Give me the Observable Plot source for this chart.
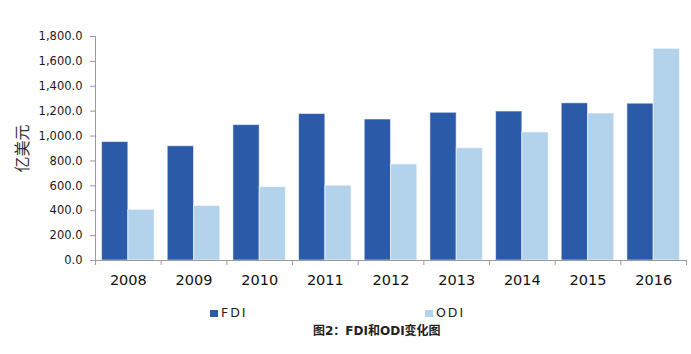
<!DOCTYPE html>
<html><head><meta charset="utf-8">
<script src="https://cdn.jsdelivr.net/npm/d3@7"></script>
<script src="https://cdn.jsdelivr.net/npm/@observablehq/plot@0.6"></script>
<style>
body{margin:0;background:#fff;}
#wrap{position:relative;width:691px;height:354px;overflow:hidden;}
#wrap svg{position:absolute;left:0;top:0;}
.leg{position:absolute;font-family:"DejaVu Sans","Noto Sans CJK SC",sans-serif;font-size:12.5px;letter-spacing:2px;color:#222;line-height:14px;white-space:nowrap;}
.sw{display:inline-block;width:8px;height:7px;margin-right:3px;vertical-align:0px;}
.cap{position:absolute;font-family:"DejaVu Sans","Noto Sans CJK SC",sans-serif;font-weight:bold;font-size:12px;color:#222;line-height:16px;white-space:nowrap;}
</style></head><body><div id="wrap"></div>
<script>
const years = ["2008","2009","2010","2011","2012","2013","2014","2015","2016"];
const series = ["FDI","ODI"];
const fdi = [952, 918, 1088, 1177, 1133, 1187, 1197, 1263, 1260];
const odi = [407, 438, 590, 601, 772, 902, 1029, 1181, 1701];
const yTicks = [0,200,400,600,800,1000,1200,1400,1600,1800];
const colors = ["#2B5BA8","#B3D3EC"];
const yLabel = "亿美元";
const caption = "图2：FDI和ODI变化图";

const data = years.flatMap((y,i)=>[
  {year:y, series:series[0], value:fdi[i]},
  {year:y, series:series[1], value:odi[i]}
]);

const W=691, H=300, ml=95, mr=5, mt=36, mb=40;
const step = (W-ml-mr)/years.length;
const axisGray = "#9a9a9a";

const chart = Plot.plot({
  width:W, height:H, marginLeft:ml, marginRight:mr, marginTop:mt, marginBottom:mb,
  style:{fontFamily:"DejaVu Sans, Noto Sans CJK SC, sans-serif", background:"transparent", color:"#222"},
  fx:{domain:years, padding:0, round:false},
  x:{domain:series, paddingInner:0, paddingOuter:0.25, round:false, axis:null},
  y:{domain:[0,1800]},
  color:{domain:series, range:colors},
  marks:[
    Plot.barY(data,{fx:"year", x:"series", y:"value", fill:"series", stroke:"white", strokeOpacity:0.55, strokeWidth:1}),
    Plot.ruleY([0],{stroke:axisGray}),
    Plot.frame({anchor:"left", facetAnchor:"left", stroke:axisGray}),
    Plot.axisY({ticks:yTicks, tickFormat:d3.format(",.1f"), tickSize:5, tickPadding:8, fontSize:11.5, label:null, stroke:axisGray, fill:"#1a1a1a"}),
    Plot.axisY({ticks:yTicks, text:null, tickSize:0, label:yLabel, labelAnchor:"center", labelArrow:"none", labelOffset:79, fontSize:16, fill:"#333"}),
    Plot.axisFx({anchor:"bottom", tickSize:0, tickPadding:14, fontSize:14.5, label:null, fill:"#111"}),
    Plot.axisFx({anchor:"bottom", tickSize:5, text:null, dx:-step/2, stroke:axisGray, label:null}),
    Plot.axisFx({anchor:"bottom", ticks:[years[years.length-1]], tickSize:5, text:null, dx:step/2, stroke:axisGray, label:null})
  ]
});
const wrap = document.getElementById("wrap");
wrap.appendChild(chart);

const legPos = [210, 425];
series.forEach((s,i)=>{
  const d = document.createElement("div");
  d.className = "leg";
  d.style.left = legPos[i] + "px";
  d.style.top = "306px";
  const sw = document.createElement("span");
  sw.className = "sw";
  sw.style.background = colors[i];
  d.appendChild(sw);
  d.appendChild(document.createTextNode(s));
  wrap.appendChild(d);
});
const c = document.createElement("div");
c.className = "cap";
c.style.left = "313px";
c.style.top = "323px";
c.textContent = caption;
wrap.appendChild(c);
</script></body></html>
